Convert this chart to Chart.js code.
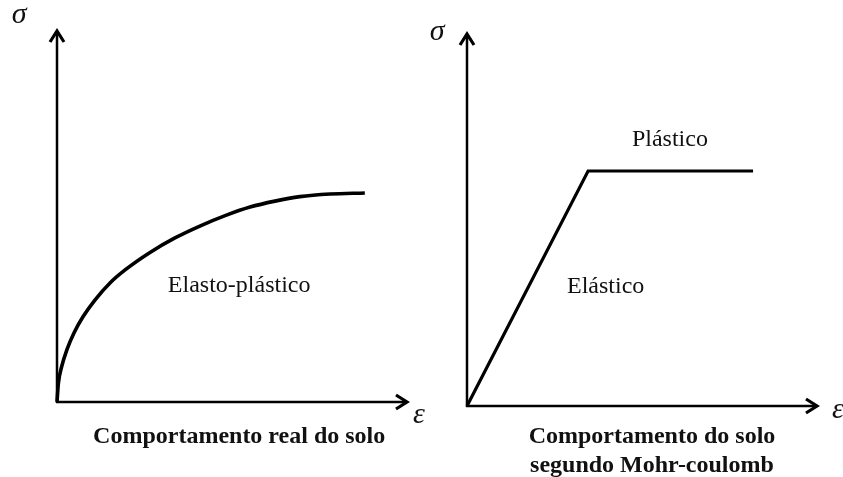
<!DOCTYPE html>
<html>
<head>
<meta charset="utf-8">
<script src="https://cdn.jsdelivr.net/npm/chart.js@4/dist/chart.umd.min.js"></script>
<style>
html, body { margin: 0; padding: 0; background: #fff; }
#wrap { position: relative; width: 843px; height: 477px; overflow: hidden; }
canvas { position: absolute; top: 0; }
#left { left: 0; }
#right { left: 421px; }
</style>
</head>
<body>
<div id="wrap">
  <canvas id="left" width="440" height="477"></canvas>
  <canvas id="right" width="422" height="477"></canvas>
</div>
<script>
// comportamento real (curva elasto-plástica)
const realStrain = [0, 0.4, 1.3, 2.8, 4.8, 7.4, 10.8, 15.1, 19.4, 26.5, 33.6, 40.7, 47.9, 55.0, 62.1, 69.2, 77.8, 87.7];
const realStress = [0, 5.1, 9.4, 14.0, 18.5, 22.9, 27.4, 32.0, 35.5, 40.2, 44.1, 47.3, 50.1, 52.4, 54.0, 55.2, 55.9, 56.2];
// modelo Mohr-Coulomb (elástico perfeitamente plástico)
const mcStrain = [0, 34.5, 81.5];
const mcStress = [0, 63.0, 63.0];
const axisMax = 100;

const serif = "'Liberation Serif', 'Times New Roman', serif";

const sketchPlugin = {
    id: 'sketch',
    beforeDatasetsDraw(chart) {
        const { ctx, scales: { x, y } } = chart;
        const ox = x.getPixelForValue(0);
        const oy = y.getPixelForValue(0);
        const tx = x.getPixelForValue(axisMax);
        const ty = y.getPixelForValue(axisMax);
        ctx.save();
        ctx.strokeStyle = '#000';
        ctx.lineWidth = 2.5;
        ctx.beginPath();
        ctx.moveTo(ox, oy + 1);
        ctx.lineTo(ox, ty + 1);
        ctx.moveTo(ox - 1, oy);
        ctx.lineTo(tx - 1, oy);
        ctx.stroke();
        // pontas de seta
        ctx.lineWidth = 3.2;
        ctx.lineJoin = 'miter';
        ctx.beginPath();
        ctx.moveTo(ox - 7, ty + 12);
        ctx.lineTo(ox, ty + 1);
        ctx.lineTo(ox + 7, ty + 12);
        ctx.moveTo(tx - 12, oy - 7);
        ctx.lineTo(tx - 1, oy);
        ctx.lineTo(tx - 12, oy + 7);
        ctx.stroke();
        ctx.restore();
    },
    afterDraw(chart, args, opts) {
        const { ctx, scales: { x, y } } = chart;
        ctx.save();
        ctx.fillStyle = '#111';
        ctx.textAlign = 'center';
        ctx.textBaseline = 'alphabetic';
        (opts.labels || []).forEach((l) => {
            ctx.font = l.font;
            ctx.fillText(l.text, x.getPixelForValue(l.x), y.getPixelForValue(l.y));
        });
        ctx.restore();
    }
};

function makeChart(id, xs, ys, lineWidth, cubic, padding, labels) {
    return new Chart(document.getElementById(id), {
        type: 'scatter',
        data: {
            datasets: [{
                data: xs.map((v, i) => ({ x: v, y: ys[i] })),
                showLine: true,
                borderColor: '#000',
                borderWidth: lineWidth,
                pointRadius: 0,
                tension: cubic ? 0.4 : 0,
                cubicInterpolationMode: cubic ? 'monotone' : 'default',
                borderJoinStyle: 'miter',
                clip: false
            }]
        },
        options: {
            responsive: false,
            animation: false,
            devicePixelRatio: 1,
            layout: { padding: padding },
            plugins: {
                legend: { display: false },
                tooltip: { enabled: false },
                sketch: { labels: labels }
            },
            scales: {
                x: { type: 'linear', min: 0, max: axisMax, display: false },
                y: { type: 'linear', min: 0, max: axisMax, display: false }
            }
        },
        plugins: [sketchPlugin]
    });
}

makeChart('left', realStrain, realStress, 3.6, true,
    { left: 57, right: 32, top: 30, bottom: 75 },
    [
        { text: 'σ', x: -10.8, y: 101.9, font: 'italic 30px ' + serif },
        { text: 'ε', x: 103.1, y: -5.6, font: 'italic 30px ' + serif },
        { text: 'Elasto-plástico', x: 51.9, y: 29.6, font: '24px ' + serif },
        { text: 'Comportamento real do solo', x: 51.9, y: -11.0, font: 'bold 24px ' + serif }
    ]);

makeChart('right', mcStrain, mcStress, 3.2, false,
    { left: 46, right: 25, top: 33, bottom: 71 },
    [
        { text: 'σ', x: -8.5, y: 98.1, font: 'italic 30px ' + serif },
        { text: 'ε', x: 105.7, y: -3.2, font: 'italic 30px ' + serif },
        { text: 'Plástico', x: 57.8, y: 69.7, font: '24px ' + serif },
        { text: 'Elástico', x: 39.5, y: 30.3, font: '24px ' + serif },
        { text: 'Comportamento do solo', x: 52.7, y: -9.9, font: 'bold 24px ' + serif },
        { text: 'segundo Mohr-coulomb', x: 52.7, y: -17.7, font: 'bold 24px ' + serif }
    ]);
</script>
</body>
</html>
